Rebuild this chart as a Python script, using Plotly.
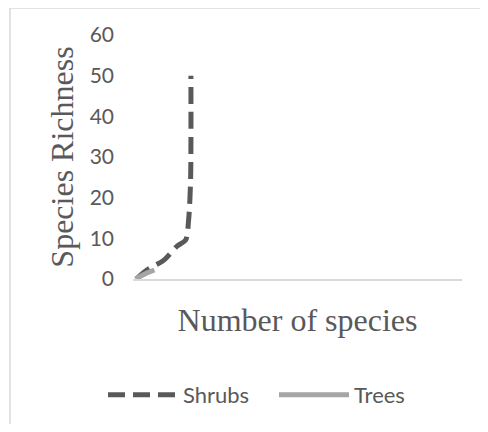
import plotly.graph_objects as go

# Data
shrubs_x = [1, 4.2, 9.5, 13.4, 16, 16.9, 17.5, 17.6]
shrubs_y = [0, 2.2, 4.7, 8.1, 9.6, 14.5, 24.3, 50]
trees_x = [0.8, 3, 6.5]
trees_y = [0, 1, 2.2]
y_ticks = [0, 10, 20, 30, 40, 50, 60]

# page has an 8px body margin, so the figure is 16px smaller than the window
OFF = 8
W, H = 488 - 2 * OFF, 432 - 2 * OFF
L, R, T = 133 - OFF, 18, 35 - OFF
BOTTOM = 279 - OFF
B = H - BOTTOM

fig = go.Figure()
fig.add_trace(go.Scatter(
    x=shrubs_x, y=shrubs_y, mode="lines", name="Shrubs",
    line=dict(color="#595959", width=5, dash="17px,8px", shape="spline", smoothing=0.8),
))
fig.add_trace(go.Scatter(
    x=trees_x, y=trees_y, mode="lines", name="Trees",
    line=dict(color="#a5a5a5", width=5, shape="spline"),
))

pw = W - L - R
ph = H - T - B

def px_x(p):
    return (p - OFF - L) / pw

def px_y(p):
    return (BOTTOM - (p - OFF)) / ph

# chart border (light grey frame)
fig.add_shape(type="rect", xref="paper", yref="paper",
              x0=px_x(10), x1=px_x(520), y0=px_y(8), y1=px_y(470),
              line=dict(color="#d9d9d9", width=1.5), fillcolor="rgba(0,0,0,0)", layer="below")

fig.update_layout(
    width=W, height=H,
    margin=dict(l=L, r=R, t=T, b=B, autoexpand=False),
    paper_bgcolor="white", plot_bgcolor="white",
    showlegend=True,
    legend=dict(orientation="h", x=px_x(103), xanchor="left",
                y=px_y(395), yanchor="middle",
                font=dict(family="Lato", size=22, color="#595959"), itemwidth=70,
                entrywidth=86, entrywidthmode="pixels",
                bgcolor="rgba(0,0,0,0)"),
    xaxis=dict(range=[0, 100], showgrid=False, zeroline=False, showticklabels=False, ticks="",
               showline=True, linecolor="#d9d9d9", linewidth=1.5,
               title=dict(text="Number of species", standoff=29,
                          font=dict(family="Liberation Serif", size=32, color="#595959"))),
    yaxis=dict(range=[0, 60], tickvals=y_ticks, showgrid=False, zeroline=False, showline=False,
               ticks="", ticklabelstandoff=18,
               tickfont=dict(family="Lato", size=21, color="#595959"),
               title=dict(text="Species Richness", standoff=6,
                          font=dict(family="Liberation Serif", size=32, color="#595959"))),
)

fig.write_html("out.html")
